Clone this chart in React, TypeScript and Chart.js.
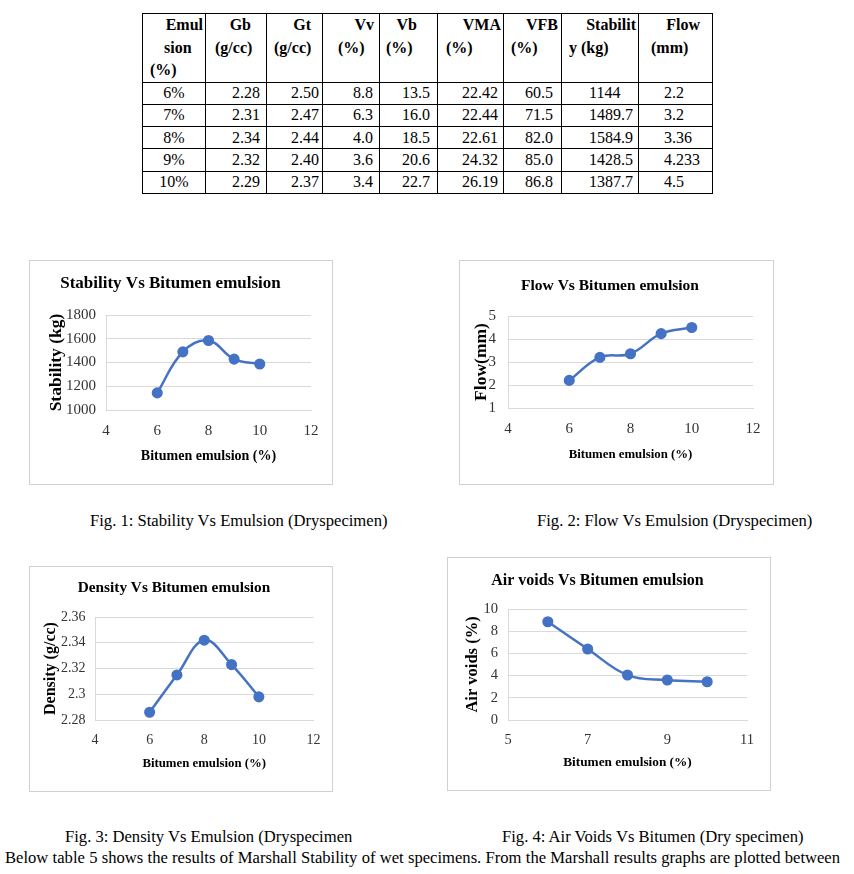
import React, { useEffect, useRef } from "react";
import { Chart, registerables } from "chart.js";
Chart.register(...registerables);

// ---------- DATA ----------
const emulsionPct = [6, 7, 8, 9, 10];
const stabilityKg = [1144, 1489.7, 1584.9, 1428.5, 1387.7];
const flowMm = [2.2, 3.2, 3.36, 4.233, 4.5];
const densityGcc = [2.286, 2.315, 2.342, 2.323, 2.298];
const airVoidsPct = [8.85, 6.4, 4.05, 3.6, 3.45];

const tableHeader = [
  ["Emul", "sion", "(%)"],
  ["Gb", "(g/cc)"],
  ["Gt", "(g/cc)"],
  ["Vv", "(%)"],
  ["Vb", "(%)"],
  ["VMA", "(%)"],
  ["VFB", "(%)"],
  ["Stabilit", "y (kg)"],
  ["Flow", "(mm)"],
];
const tableRows = [
  ["6%", "2.28", "2.50", "8.8", "13.5", "22.42", "60.5", "1144", "2.2"],
  ["7%", "2.31", "2.47", "6.3", "16.0", "22.44", "71.5", "1489.7", "3.2"],
  ["8%", "2.34", "2.44", "4.0", "18.5", "22.61", "82.0", "1584.9", "3.36"],
  ["9%", "2.32", "2.40", "3.6", "20.6", "24.32", "85.0", "1428.5", "4.233"],
  ["10%", "2.29", "2.37", "3.4", "22.7", "26.19", "86.8", "1387.7", "4.5"],
];

const captions = [
  "Fig. 1: Stability Vs Emulsion (Dryspecimen)",
  "Fig. 2: Flow Vs Emulsion (Dryspecimen)",
  "Fig. 3: Density Vs Emulsion (Dryspecimen",
  "Fig. 4: Air Voids Vs Bitumen (Dry specimen)",
];
const bodyLine =
  "Below table 5 shows the results of Marshall Stability of wet specimens. From the Marshall results graphs are plotted between";

// ---------- LAYOUT ----------
const SERIF = "'Liberation Serif', 'Times New Roman', serif";
const colEdges = [142, 205, 266, 322, 379, 437, 503, 561, 638, 712];
const headLine1PadR = [2, 15, 11, 5, 20, 2, 3, 2, 12];
const headLinePadL = [7, 9, 7, 15, 6, 8, 7, 7, 12];
const dataAlign = ["center", "right", "right", "right", "right", "right", "right", "left", "left"];
const dataPad = [0, 6, 3, 6, 7, 5, 8, 27, 25];

type Spec = {
  box: number[];
  plot: number[];
  title: string;
  titleSize: number;
  titleY: number;
  xTitle: string;
  xTitleSize: number;
  xTitleY: number;
  yTitle: string;
  yTitleSize: number;
  yTitleX: number;
  tickSize: number;
  yTickPad: number;
  xTickPad: number;
  xr: number[];
  yr: number[];
  values: number[];
};

const specs: Spec[] = [
  {
    box: [29, 260, 304, 225], plot: [106, 315, 311, 410],
    title: "Stability Vs Bitumen emulsion", titleSize: 17, titleY: 284,
    xTitle: "Bitumen emulsion (%)", xTitleSize: 14, xTitleY: 456,
    yTitle: "Stability (kg)", yTitleSize: 17.5, yTitleX: 56,
    tickSize: 15, yTickPad: 10, xTickPad: 12.5,
    xr: [4, 12, 2], yr: [1000, 1800, 200], values: stabilityKg,
  },
  {
    box: [459, 260, 315, 225], plot: [508, 316, 760, 408],
    title: "Flow Vs Bitumen emulsion", titleSize: 15.5, titleY: 286,
    xTitle: "Bitumen emulsion (%)", xTitleSize: 12.8, xTitleY: 455,
    yTitle: "Flow(mm)", yTitleSize: 17.5, yTitleX: 481,
    tickSize: 15, yTickPad: 12, xTickPad: 12.5,
    xr: [4, 12, 2], yr: [1, 5, 1], values: flowMm,
  },
  {
    box: [29, 566, 304, 226], plot: [95, 617, 318, 720],
    title: "Density Vs Bitumen emulsion", titleSize: 15.3, titleY: 588,
    xTitle: "Bitumen emulsion (%)", xTitleSize: 12.8, xTitleY: 764,
    yTitle: "Density (g/cc)", yTitleSize: 16, yTitleX: 51,
    tickSize: 14, yTickPad: 9.5, xTickPad: 11.5,
    xr: [4, 12, 2], yr: [2.28, 2.36, 0.02], values: densityGcc,
  },
  {
    box: [447, 557, 324, 234], plot: [508, 609, 747, 720],
    title: "Air voids Vs Bitumen emulsion", titleSize: 16, titleY: 581,
    xTitle: "Bitumen emulsion (%)", xTitleSize: 13.3, xTitleY: 763,
    yTitle: "Air voids (%)", yTitleSize: 16.5, yTitleX: 473,
    tickSize: 14.5, yTickPad: 10, xTickPad: 11.5,
    xr: [5, 11, 2], yr: [0, 10, 2], values: airVoidsPct,
  },
];

const captionPos = [
  { x: 90, y: 521 },
  { x: 537, y: 521 },
  { x: 65, y: 837 },
  { x: 502, y: 837 },
];

function LineChart({ spec }: { spec: Spec }) {
  const ref = useRef<HTMLCanvasElement>(null);
  const [bx, by, bw, bh] = spec.box;
  const ox = bx + 1, oy = by + 1, W = bw - 2, H = bh - 2;
  useEffect(() => {
    const [pl, pt, pr, pb] = spec.plot;
    const tLh = spec.titleSize * 1.2;
    const tPadTop = spec.titleY - oy - tLh / 2;
    const tPadBottom = pt - oy - tPadTop - tLh;
    const yW = pl - ox;
    const xH = H - (pb - oy);
    const xtLh = spec.xTitleSize * 1.2;
    const xtPadBottom = H - (spec.xTitleY - oy) - xtLh / 2;
    const ytLh = spec.yTitleSize * 1.2;
    const ytPadTop = spec.yTitleX - ox - ytLh / 2;
    const rightPad = W - (pr - ox);
    const tickFont = { family: SERIF, size: spec.tickSize };
    const chart = new Chart(ref.current!, {
      type: "line",
      data: {
        datasets: [
          {
            data: emulsionPct.map((x, i) => ({ x, y: spec.values[i] })),
            borderColor: "#4472C4",
            backgroundColor: "#4472C4",
            borderWidth: 2.5,
            tension: 0.4,
            pointRadius: 4.3,
            pointBackgroundColor: "#4472C4",
            pointBorderColor: "#4472C4",
            clip: 8,
          },
        ],
      },
      options: {
        responsive: false,
        animation: false,
        devicePixelRatio: 1,
        layout: { padding: { left: 0, right: rightPad, top: 0, bottom: 0 } },
        plugins: {
          legend: { display: false },
          tooltip: { enabled: false },
          title: {
            display: true,
            text: spec.title,
            color: "#000",
            font: { family: SERIF, size: spec.titleSize, weight: "bold" },
            padding: { top: tPadTop, bottom: tPadBottom },
          },
        },
        scales: {
          x: {
            type: "linear",
            min: spec.xr[0],
            max: spec.xr[1],
            ticks: { stepSize: spec.xr[2], font: tickFont, color: "#333", padding: spec.xTickPad },
            grid: { display: false, drawTicks: false },
            border: { display: true, color: "#d9d9d9" },
            title: {
              display: true,
              text: spec.xTitle,
              color: "#000",
              font: { family: SERIF, size: spec.xTitleSize, weight: "bold" },
              padding: { top: 0, bottom: xtPadBottom },
            },
            afterFit: (s: any) => {
              s.height = xH;
            },
          },
          y: {
            type: "linear",
            min: spec.yr[0],
            max: spec.yr[1],
            ticks: {
              stepSize: spec.yr[2],
              font: tickFont,
              color: "#333",
              padding: spec.yTickPad,
              callback: (v: any) => String(Math.round(Number(v) * 1000) / 1000),
            },
            grid: { color: "#d9d9d9", drawTicks: false },
            border: { display: true, color: "#d9d9d9" },
            title: {
              display: true,
              text: spec.yTitle,
              color: "#000",
              font: { family: SERIF, size: spec.yTitleSize, weight: "bold" },
              padding: { top: ytPadTop, bottom: 0 },
            },
            afterFit: (s: any) => {
              s.width = yW;
            },
          },
        },
      } as any,
    });
    return () => chart.destroy();
  }, []);
  return (
    <div
      style={{
        position: "absolute",
        left: bx,
        top: by,
        width: bw,
        height: bh,
        boxSizing: "border-box",
        border: "1px solid #d0d0d0",
        background: "#fff",
      }}
    >
      <canvas ref={ref} width={W} height={H} style={{ display: "block", width: W, height: H }} />
    </div>
  );
}

function DataTable() {
  const widths = colEdges.slice(1).map((e, i) => e - colEdges[i]);
  const cellBorder = "1px solid #000";
  return (
    <table
      style={{
        position: "absolute",
        left: colEdges[0],
        top: 13,
        borderCollapse: "collapse",
        tableLayout: "fixed",
        width: colEdges[colEdges.length - 1] - colEdges[0] + 1,
        fontFamily: SERIF,
        fontSize: 16,
        color: "#000",
      }}
    >
      <colgroup>
        {widths.map((w, i) => (
          <col key={i} style={{ width: w }} />
        ))}
      </colgroup>
      <tbody>
        <tr style={{ height: 68 }}>
          {tableHeader.map((lines, c) => (
            <td key={c} style={{ border: cellBorder, padding: 0, verticalAlign: "top", fontWeight: "bold", lineHeight: "22.5px" }}>
              {lines.map((ln, k) => (
                <div
                  key={k}
                  style={{
                    textAlign: k === 0 ? "right" : "left",
                    paddingRight: k === 0 ? headLine1PadR[c] : 0,
                    paddingLeft: k === 0 ? 0 : headLinePadL[c] + (c === 0 && k === 1 ? 14 : 0),
                    whiteSpace: "nowrap",
                  }}
                >
                  {ln}
                </div>
              ))}
            </td>
          ))}
        </tr>
        {tableRows.map((row, r) => (
          <tr key={r} style={{ height: 22.3 }}>
            {row.map((v, c) => (
              <td
                key={c}
                style={{
                  border: cellBorder,
                  padding: 0,
                  paddingLeft: dataAlign[c] === "left" ? dataPad[c] : 0,
                  paddingRight: dataAlign[c] === "right" ? dataPad[c] : 0,
                  textAlign: dataAlign[c] as any,
                  lineHeight: "20px",
                  whiteSpace: "nowrap",
                }}
              >
                {v}
              </td>
            ))}
          </tr>
        ))}
      </tbody>
    </table>
  );
}

export default function App() {
  useEffect(() => {
    document.body.style.margin = "0";
    document.body.style.background = "#fff";
  }, []);
  return (
    <div style={{ position: "relative", width: 854, height: 874, overflow: "hidden", background: "#fff", fontFamily: SERIF }}>
      <DataTable />
      {specs.map((s, i) => (
        <LineChart key={i} spec={s} />
      ))}
      {captions.map((t, i) => (
        <div
          key={i}
          style={{
            position: "absolute",
            left: captionPos[i].x,
            top: captionPos[i].y - 10,
            height: 20,
            lineHeight: "20px",
            fontSize: 16.6,
            whiteSpace: "nowrap",
            color: "#000",
          }}
        >
          {t}
        </div>
      ))}
      <div
        style={{
          position: "absolute",
          left: 5,
          top: 848,
          width: 835,
          height: 20,
          lineHeight: "20px",
          fontSize: 16.6,
          whiteSpace: "nowrap",
          textAlign: "justify",
          textAlignLast: "justify" as any,
          color: "#000",
        }}
      >
        {bodyLine}
      </div>
    </div>
  );
}
